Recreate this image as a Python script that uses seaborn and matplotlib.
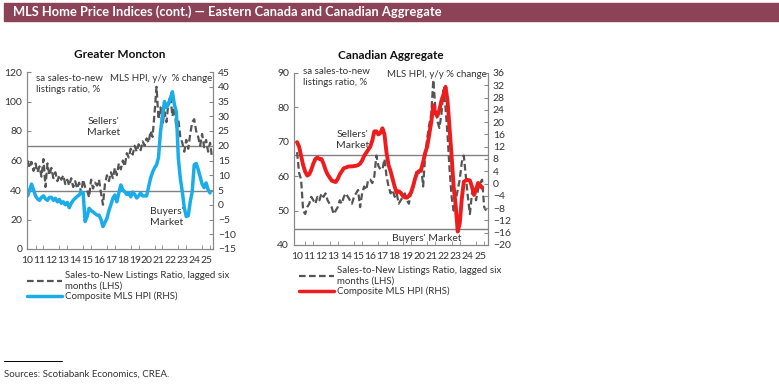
import numpy as np
import pandas as pd
import matplotlib
matplotlib.use('Agg')
import matplotlib.pyplot as plt
import seaborn as sns
from matplotlib.lines import Line2D
from matplotlib.patches import Rectangle
from matplotlib.ticker import MultipleLocator

sns.set_style('white')
plt.rcParams['font.family'] = ['Lato', 'DejaVu Sans']
plt.rcParams['font.size'] = 7.5

# bimonthly points starting Jan 2010
moncton_snlr = [60, 55, 59, 53, 58, 52,
                56, 49, 61, 42, 58, 50,
                55, 48, 52, 46, 50, 47,
                50, 44, 47, 43, 48, 42,
                46, 41, 45, 38, 47, 42,
                40, 35, 47, 41, 45, 43,
                47, 38, 30, 44, 50, 46,
                52, 48, 55, 50, 58, 54,
                60, 56, 65, 62, 68, 64,
                70, 66, 71, 67, 73, 70,
                75, 72, 80, 76, 92, 110,
                88, 96, 84, 93, 86, 99,
                104, 90, 96, 82, 88, 76,
                72, 66, 74, 68, 78, 86,
                88, 80, 76, 70, 78, 69,
                74, 66, 72, 62]
moncton_hpi = [3, 5, 7, 5, 3, 2,
               1.5, 2.5, 3, 2, 1.5, 2.5,
               2.5, 1.5, 2.2, 1, 1.8, 0.5,
               1, 0, 0.8, -1, 0.5, 1.5,
               2.2, 2.8, 3.3, 4.4, 4, -5.7,
               -4, -1.2, -2, -2.4, -3, -3.5,
               -3.5, -5, -7.4, -6, -4.6, -2,
               0, 2.2, 3.3, 1, 4, 6.7,
               5, 4.4, 3.5, 4, 2.7, 4.3,
               3.5, 2.3, 3, 4, 3, 3,
               3, 6, 9, 11, 12.5, 13.5,
               16, 24.7, 30, 35, 33, 34,
               36, 38.3, 34, 31.5, 15.8, 9,
               4.4, -1, -4, -3.7, 1, 4.4,
               13.5, 14, 12, 9.5, 7, 5.8,
               7.4, 5.1, 4]
canada_snlr = [67, 61, 59, 50, 49, 51,
               52, 54, 53, 52, 54, 53,
               55, 54, 55, 53, 52, 51,
               49, 50, 51, 53, 52, 54,
               55, 54, 53, 52, 54, 55,
               56, 51, 55, 57, 56, 59,
               59, 58, 60, 66, 63, 62,
               62, 65, 60, 57, 55, 56,
               54, 55, 52, 53, 54, 55,
               53, 52, 55, 56, 59, 62,
               61, 63, 57, 66, 71, 75,
               78, 88, 80, 76, 74, 78,
               85, 80, 72, 62, 54, 50,
               53, 56, 59, 64, 66, 60,
               54, 49, 55, 57, 53, 56,
               58, 59, 51, 50]
canada_hpi = [13.5, 12, 9, 6, 3.9, 2.6,
              3, 4.5, 6.5, 8, 8.5, 8,
              8, 6.5, 4.5, 3, 2, 1,
              0.7, 0.5, 1.5, 3, 4, 5,
              5.2, 5.5, 5.6, 5.6, 5.7, 5.8,
              6, 6.5, 7.5, 9, 10, 11,
              12, 14, 17, 17, 16, 16.5,
              18, 16, 10, 6, 4, 1.5,
              -1, -3, -2.5, -3, -4, -4.5,
              -4.6, -4, -3, -1, 1.5, 3.5,
              4, 4.5, 7, 10, 12, 16,
              20, 25.5, 23, 22, 24, 27,
              29, 31.5, 27, 18, 9, -1,
              -7, -15.6, -13, -5, 0.6, 1,
              1.2, 1, -1, -3.7, -2, 0.2,
              -0.5, -1.4]
year_labels = [str(y)[2:] for y in range(2010, 2026)]

def frame(vals, col):
    return pd.DataFrame({'year': 2010 + np.arange(len(vals)) / 6, col: vals})

GRAY = '#555555'
TXT = '#333333'
W, H = 779, 385
fig = plt.figure(figsize=(W / 100, H / 100), dpi=100)

def px_axes(x0, x1, y0, y1):
    return fig.add_axes([x0 / W, 1 - y1 / H, (x1 - x0) / W, (y1 - y0) / H])

def setup(ax, ax2, xlim):
    ax.set_xlim(*xlim)
    ax.set_xticks(range(2010, 2026))
    ax.set_xticklabels(year_labels)
    ax.xaxis.set_minor_locator(MultipleLocator(2 / 3))
    ax.tick_params(axis='x', which='major', length=0, pad=5, colors=TXT, labelsize=7.5)
    ax.tick_params(axis='x', which='minor', direction='in', length=3, color='#888888', bottom=True)
    ax.tick_params(axis='y', direction='in', length=3, color='#888888', labelcolor=TXT, labelsize=7.5, left=True)
    ax2.tick_params(axis='y', direction='in', length=3, color='#888888', labelcolor=TXT, labelsize=7.5, right=True)
    for a in (ax, ax2):
        a.spines['top'].set_visible(False)
        for s in ('left', 'right', 'bottom'):
            a.spines[s].set_color('#888888')
            a.spines[s].set_linewidth(0.8)
        a.set_xlabel('')
        a.set_ylabel('')
        a.grid(False)

def add_legend(ax, color, x0, y0):
    handles = [Line2D([], [], color=GRAY, lw=1.6, ls=(0, (3, 1.5))),
               Line2D([], [], color=color, lw=2.5)]
    labels = ['Sales-to-New Listings Ratio, lagged six\nmonths (LHS)', 'Composite MLS HPI (RHS)']
    ax.legend(handles, labels, loc='upper left', bbox_to_anchor=(x0 / W, 1 - y0 / H),
              bbox_transform=fig.transFigure, frameon=False, borderaxespad=0, borderpad=0,
              handlelength=3.6, handletextpad=0.3, labelspacing=0.1, fontsize=7, labelcolor=TXT)

# ---- Greater Moncton
ax = px_axes(27, 213, 72, 249)
ax2 = ax.twinx()
sns.lineplot(data=frame(moncton_snlr, 'v'), x='year', y='v', ax=ax, color=GRAY, lw=1.6,
             linestyle=(0, (3, 1.5)))
sns.lineplot(data=frame(moncton_hpi, 'v'), x='year', y='v', ax=ax2, color='#1AADEA', lw=2.5)
ax.axhline(70, color='#808080', lw=1, zorder=1)
ax.axhline(39, color='#808080', lw=1, zorder=1)
ax.set_ylim(0, 120)
ax.set_yticks(range(0, 121, 20))
ax2.set_ylim(-15, 45)
ax2.set_yticks(range(-15, 46, 5))
setup(ax, ax2, (2009.95, 2025.58))
ax.text(0.05, 0.99, 'sa sales-to-new\nlistings ratio, %', transform=ax.transAxes, va='top', ha='left',
        fontsize=7, color=TXT, linespacing=1.35)
ax.text(0.995, 0.99, 'MLS HPI, y/y  % change', transform=ax.transAxes, va='top', ha='right',
        fontsize=7, color=TXT)
ax.text(0.41, 0.745, "Sellers'\nMarket", transform=ax.transAxes, va='top', ha='center',
        fontsize=7.5, color=TXT, linespacing=1.3)
ax.text(0.75, 0.24, "Buyers'\nMarket", transform=ax.transAxes, va='top', ha='center',
        fontsize=7.5, color=TXT, linespacing=1.3)
ax.set_title('Greater Moncton', fontsize=8.5, fontweight='bold', color='#111111', pad=10)
add_legend(ax, '#1AADEA', 27, 271)

# ---- Canadian Aggregate
bx = px_axes(294, 488, 73, 245)
bx2 = bx.twinx()
sns.lineplot(data=frame(canada_snlr, 'v'), x='year', y='v', ax=bx, color=GRAY, lw=1.6,
             linestyle=(0, (3, 1.5)))
sns.lineplot(data=frame(canada_hpi, 'v'), x='year', y='v', ax=bx2, color='#EE1C1C', lw=2.8)
bx.axhline(66.2, color='#808080', lw=1, zorder=1)
bx.axhline(44.7, color='#808080', lw=1, zorder=1)
bx.set_ylim(40, 90)
bx.set_yticks(range(40, 91, 10))
bx2.set_ylim(-20, 36)
bx2.set_yticks(range(-20, 37, 4))
setup(bx, bx2, (2009.75, 2025.65))
bx.text(0.045, 1.035, 'sa sales-to-new\nlistings ratio, %', transform=bx.transAxes, va='top', ha='left',
        fontsize=7, color=TXT, linespacing=1.35)
bx.text(0.995, 1.02, 'MLS HPI, y/y % change', transform=bx.transAxes, va='top', ha='right',
        fontsize=7, color=TXT)
bx.text(0.30, 0.67, "Sellers'\nMarket", transform=bx.transAxes, va='top', ha='center',
        fontsize=7.5, color=TXT, linespacing=1.3)
bx.text(0.684, 0.065, "Buyers' Market", transform=bx.transAxes, va='top', ha='center',
        fontsize=7.5, color=TXT, clip_on=False)
bx.set_title('Canadian Aggregate', fontsize=8.5, fontweight='bold', color='#111111', pad=10)
add_legend(bx, '#EE1C1C', 299, 266)

# ---- banner and source
fig.patches.append(Rectangle((4 / W, 1 - 21 / H), 1 - 4 / W, 18 / H, transform=fig.transFigure,
                             color='#8C4257', zorder=0))
fig.text(13 / W, 1 - 12 / H, 'MLS Home Price Indices (cont.) \u2014 Eastern Canada and Canadian Aggregate',
         color='white', fontsize=9.3, fontweight='bold', va='center', ha='left')
fig.add_artist(Line2D([4 / W, 62 / W], [1 - 361 / H, 1 - 361 / H], color='black', lw=0.7,
                      transform=fig.transFigure))
fig.text(4 / W, 1 - 374 / H, 'Sources: Scotiabank Economics, CREA.', fontsize=7, color=TXT,
         va='center', ha='left')

fig.savefig('out.png', dpi=100)
